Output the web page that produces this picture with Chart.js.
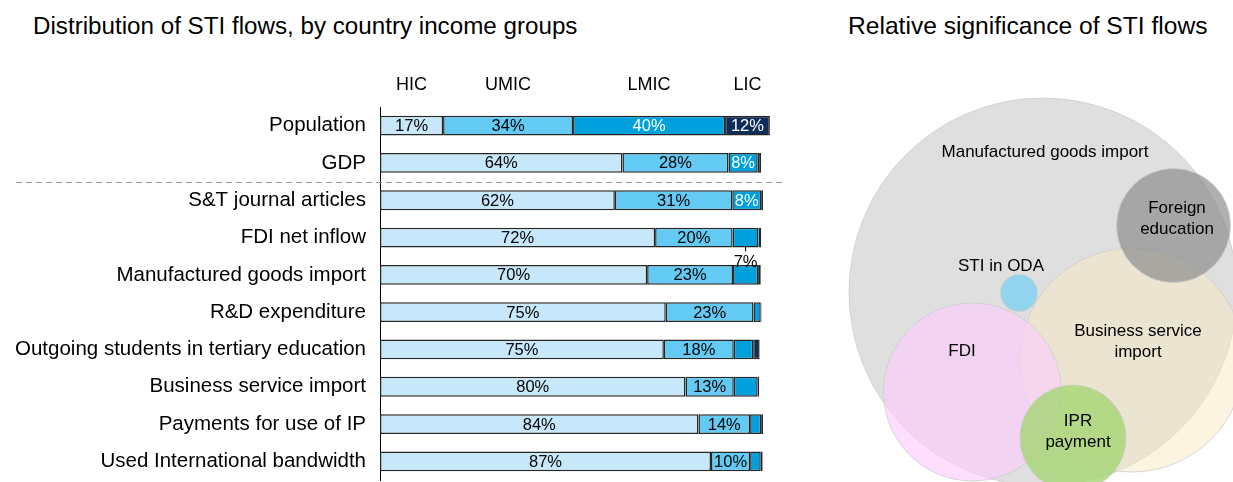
<!DOCTYPE html>
<html>
<head>
<meta charset="utf-8">
<script src="https://cdn.jsdelivr.net/npm/chart.js@4.4.1/dist/chart.umd.min.js"></script>
<style>
  body { margin: 0; background: #fff; font-family: "Liberation Sans", Arial, sans-serif; }
  #wrap { position: relative; width: 1233px; height: 482px; overflow: hidden; }
  .title { position: absolute; top: 12px; color: #000; white-space: nowrap; }
  #barChart { position: absolute; left: 0; top: 0; }
  #bubbleChart { position: absolute; left: 800px; top: 0; }
</style>
</head>
<body>
<div id="wrap">
  <div class="title" style="left:33px; font-size:24.2px">Distribution of STI flows, by country income groups</div>
  <div class="title" style="left:848px; font-size:24.6px">Relative significance of STI flows</div>
  <canvas id="barChart" width="800" height="482"></canvas>
  <canvas id="bubbleChart" width="433" height="482"></canvas>
</div>
<script>
// Left panel: share of each flow by income group (%)
const categories = [
    'Population', 'GDP', 'S&T journal articles', 'FDI net inflow',
    'Manufactured goods import', 'R&D expenditure',
    'Outgoing students in tertiary education', 'Business service import',
    'Payments for use of IP', 'Used International bandwidth'
];
const groups = ['HIC', 'UMIC', 'LMIC', 'LIC'];
const hicShare  = [16.6, 63.8, 61.8, 72.4, 70.3, 75.2, 74.7, 80.4, 83.8, 87.1];
const umicShare = [34.2, 27.9, 30.9, 20.4, 22.6, 23.1, 18.4, 12.7, 13.6, 10.3];
const lmicShare = [40.0,  7.7,  7.6,  6.8,  6.6,  1.9,  5.1,  6.3,  2.9,  2.8];
const licShare  = [11.8,  0.9,  0.5,  0.7,  0.7,  0.2,  1.7,  0.4,  0.5,  0.5];

// Right panel: relative size of flows
const flowNames = ['Manufactured goods import', 'Business service\nimport', 'Foreign\neducation', 'FDI', 'IPR\npayment', 'STI in ODA'];
const flowX = [24.3, 33.2, 37.35, 17.25, 27.3, 21.9];
const flowY = [19.0, 12.2, 25.65, 9.0, 4.4, 18.9];
const flowSize = [194, 112, 57, 89, 53, 18.5];

const FONT = '"Liberation Sans", Arial, sans-serif';
const groupColors = ['#C7E8FA', '#63CBF3', '#00A0DC', '#0E2D5A'];
const labelColors = ['#000', '#000', '#fff', '#fff'];

// value labels inside segments, group names over the first bar, callout for small FDI share
const barLabels = {
    id: 'barLabels',
    afterDatasetsDraw(chart, args, opts) {
        const ctx = chart.ctx;
        ctx.save();
        ctx.textAlign = 'center';
        ctx.textBaseline = 'middle';
        chart.data.datasets.forEach((ds, di) => {
            const meta = chart.getDatasetMeta(di);
            meta.data.forEach((bar, i) => {
                const v = ds.data[i];
                const cx = (bar.x + bar.base) / 2;
                const callout = opts.callouts.find(c => c.dataset === di && c.index === i);
                ctx.font = '16.5px ' + FONT;
                if (callout) {
                    const bottom = bar.y + bar.height / 2;
                    ctx.strokeStyle = '#000';
                    ctx.lineWidth = 1;
                    ctx.beginPath();
                    ctx.moveTo(cx, bottom - 1);
                    ctx.lineTo(cx, bottom + 4);
                    ctx.stroke();
                    ctx.fillStyle = '#000';
                    ctx.fillText(Math.round(v) + '%', cx, bottom + 15);
                } else if (v >= opts.minValue) {
                    ctx.fillStyle = labelColors[di];
                    ctx.fillText(Math.round(v) + '%', cx, bar.y + 1);
                }
                if (i === 0) {
                    ctx.font = '18px ' + FONT;
                    ctx.fillStyle = '#000';
                    ctx.fillText(ds.label, cx, chart.chartArea.top - 22);
                }
            });
        });
        // dashed separator between the reference rows and the flows
        const y1 = chart.scales.y.getPixelForValue(1);
        const y2 = chart.scales.y.getPixelForValue(2);
        ctx.strokeStyle = '#999';
        ctx.lineWidth = 1;
        ctx.setLineDash([6, 4]);
        ctx.beginPath();
        ctx.moveTo(16, Math.round((y1 + y2) / 2) + 0.5);
        ctx.lineTo(chart.chartArea.right + 3, Math.round((y1 + y2) / 2) + 0.5);
        ctx.stroke();
        ctx.restore();
    }
};

const bubbleLabels = {
    id: 'bubbleLabels',
    afterDatasetsDraw(chart, args, opts) {
        const ctx = chart.ctx;
        const meta = chart.getDatasetMeta(0);
        ctx.save();
        ctx.font = '17px ' + FONT;
        ctx.fillStyle = '#000';
        ctx.textAlign = 'center';
        ctx.textBaseline = 'middle';
        meta.data.forEach((pt, i) => {
            const lines = chart.data.labels[i].split('\n');
            const off = opts.offsets[i];
            lines.forEach((line, k) => {
                const y = pt.y + off[1] + (k - (lines.length - 1) / 2) * 21;
                ctx.fillText(line, pt.x + off[0], y);
            });
        });
        ctx.restore();
    }
};

new Chart(document.getElementById('barChart'), {
    type: 'bar',
    data: {
        labels: categories,
        datasets: [hicShare, umicShare, lmicShare, licShare].map((d, i) => ({
            label: groups[i],
            data: d,
            backgroundColor: groupColors[i],
            borderColor: '#262626',
            borderWidth: 1.5,
            borderSkipped: false,
            barPercentage: 0.53,
            categoryPercentage: 1
        }))
    },
    options: {
        indexAxis: 'y',
        responsive: false,
        animation: false,
        events: [],
        layout: { padding: { top: 107, bottom: 2, right: 21 } },
        plugins: {
            legend: { display: false },
            tooltip: { enabled: false },
            barLabels: { minValue: 7.5, callouts: [{ dataset: 2, index: 3 }] }
        },
        scales: {
            x: { display: false, stacked: true, min: 0, max: 105 },
            y: {
                stacked: true,
                grid: { display: false, drawTicks: false },
                border: { color: '#000', width: 1 },
                ticks: { color: '#000', font: { family: FONT, size: 20.5 }, padding: 14, autoSkip: false },
                afterFit: scale => {
                    scale.width = 380;
                    scale.paddingTop = 0;
                    scale.paddingBottom = 0;
                }
            }
        }
    },
    plugins: [barLabels]
});

new Chart(document.getElementById('bubbleChart'), {
    type: 'bubble',
    data: {
        labels: flowNames,
        datasets: [{
            data: flowX.map((x, i) => ({ x: x, y: flowY[i], r: flowSize[i] })),
            backgroundColor: [
                'rgba(223,223,223,1)',
                'rgba(245,233,195,0.5)',
                'rgba(137,137,137,0.67)',
                'rgba(252,206,252,0.65)',
                'rgba(165,212,115,0.8)',
                'rgba(146,212,238,1)'
            ],
            borderColor: 'rgba(205,205,205,0.8)',
            borderWidth: 1
        }]
    },
    options: {
        responsive: false,
        animation: false,
        events: [],
        layout: { padding: 0, autoPadding: false },
        plugins: {
            legend: { display: false },
            tooltip: { enabled: false },
            bubbleLabels: {
                offsets: [[2, -140], [6, -18.5], [3.5, -7], [-10.5, -41], [5, -6.5], [-18, -27]]
            }
        },
        scales: {
            x: { display: false, min: 0, max: 43.3 },
            y: { display: false, min: 0, max: 48.2 }
        }
    },
    plugins: [bubbleLabels]
});
</script>
</body>
</html>
